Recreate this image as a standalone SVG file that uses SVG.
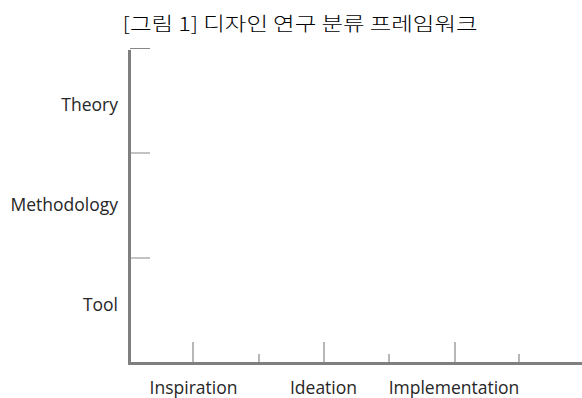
<svg xmlns="http://www.w3.org/2000/svg" width="582" height="398" viewBox="0 0 582 398">
<style>
.lbl{font-family:"Open Sans","Liberation Sans",sans-serif;font-size:17.5px;fill:#262626}
.title{font-family:"Noto Sans CJK KR","Liberation Sans",sans-serif;font-size:19px;font-weight:300;fill:#000}
.axis{stroke:#7f7f7f;stroke-width:3;fill:none}
.tick{stroke:#888;stroke-width:1.2;fill:none}
</style>
<rect width="582" height="398" fill="#fff"/>
<text class="title" x="300" y="31" text-anchor="middle" textLength="355" lengthAdjust="spacingAndGlyphs">[그림 1] 디자인 연구 분류 프레임워크</text>
<g id="connectors">
<path class="axis" d="M129.5 50 V363.5 H582"/>
<path class="tick" d="M130 48.5 H150 M131 153 H150 M131 258 H150"/>
<path class="tick" d="M193 342 V362 M324 342 V362 M455 342 V362 M259 354 V362 M389 354 V362 M519 354 V362"/>
</g>
<g id="theory"><text class="lbl" x="118" y="111" text-anchor="end">Theory</text></g>
<g id="methodology"><text class="lbl" x="118" y="211" text-anchor="end">Methodology</text></g>
<g id="tool"><text class="lbl" x="118" y="311" text-anchor="end">Tool</text></g>
<g id="inspiration"><text class="lbl" x="193.5" y="394" text-anchor="middle">Inspiration</text></g>
<g id="ideation"><text class="lbl" x="323.5" y="394" text-anchor="middle">Ideation</text></g>
<g id="implementation"><text class="lbl" x="454" y="394" text-anchor="middle">Implementation</text></g>
</svg>
